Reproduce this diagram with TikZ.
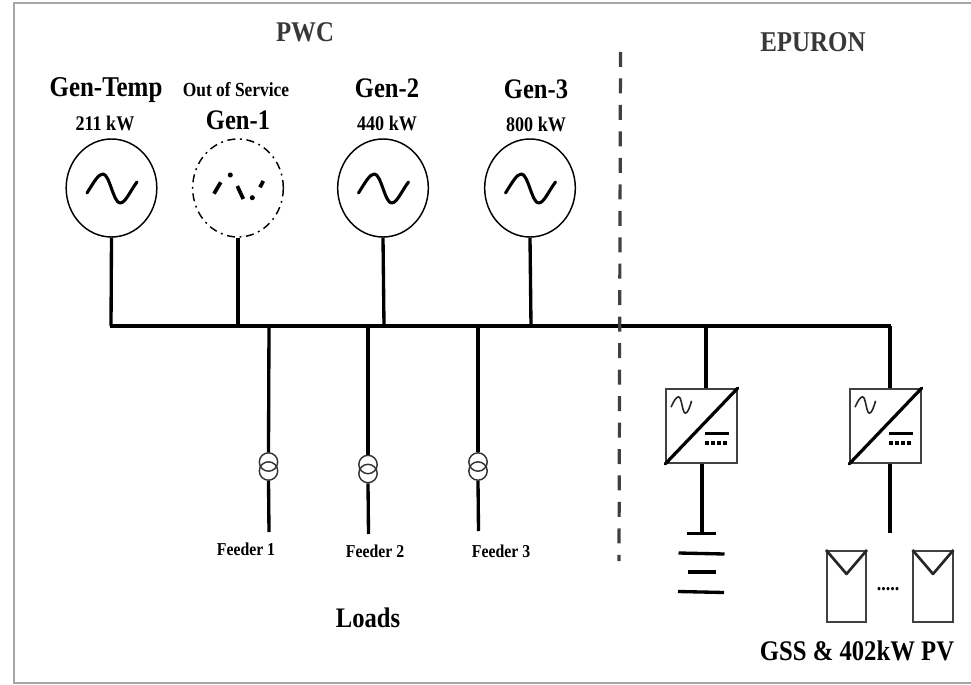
\documentclass[tikz,border=0pt]{standalone}
\usepackage{fontspec}
\setmainfont{Liberation Serif}[BoldFeatures={FakeStretch=0.87}]
\usetikzlibrary{shapes.geometric}
\newcommand{\tfs}[1]{\fontsize{#1}{#1}\selectfont\bfseries}
\begin{document}
\begin{tikzpicture}[x=0.75pt,y=-0.75pt,
  wire/.style={line width=2.5pt,black},
  genc/.style={draw=black,line width=1.1pt,fill=white,ellipse,minimum width=68pt,minimum height=73.5pt,inner sep=0pt},
  gencoff/.style={genc,line width=1.1pt,dash pattern=on 6pt off 3.5pt on 1.4pt off 3.5pt},
  sine/.style={line width=2.3pt,black,line cap=round,line join=round},
  xfmr/.style={circle,draw=black!80,line width=1.1pt,minimum size=13.8pt,inner sep=0pt},
  conv/.style={rectangle,draw=black!75,line width=1.3pt,minimum width=53pt,minimum height=55.5pt,inner sep=0pt,fill=white},
  pvbox/.style={rectangle,draw=black!75,line width=1.3pt,minimum width=29.5pt,minimum height=53.5pt,inner sep=0pt},
  lbl/.style={inner sep=0pt,text=black,anchor=center},
  lblg/.style={lbl,text=black!78},
  batt/.style={line width=2.5pt,black}]
\useasboundingbox (0,0) rectangle (971,685);
% frame
\draw[black!35,line width=1.4pt] (971,3) -- (14,3) -- (14,683) -- (971,683);
% bus ends and taps
\coordinate (busL) at (110,326);
\coordinate (busR) at (891,326);
\coordinate (t0) at (111,326);
\coordinate (t1) at (238,326);
\coordinate (t2) at (384,326);
\coordinate (t3) at (531,326);
\coordinate (f1) at (269,326);
\coordinate (f2) at (368,326);
\coordinate (f3) at (478,326);
\coordinate (c1) at (706,326);
\coordinate (c2) at (890,326);
% divider
\coordinate (divT) at (620.5,52);
\coordinate (divB) at (619,561);
% generators
\node[genc] (g0) at (111.5,188) {};
\node[gencoff] (g1) at (238,188) {};
\node[genc] (g2) at (383,188) {};
\node[genc] (g3) at (530,188) {};
\foreach \g in {g0,g2,g3}{
  \draw[sine] ([shift={(-24.5,5)}]\g.center) .. controls ([shift={(-17,-7)}]\g.center) and ([shift={(-13,-14)}]\g.center) .. ([shift={(-8.5,-14)}]\g.center)
   .. controls ([shift={(-2,-14)}]\g.center) and ([shift={(2,15)}]\g.center) .. ([shift={(8.5,15)}]\g.center)
   .. controls ([shift={(14,15)}]\g.center) and ([shift={(18,4)}]\g.center) .. ([shift={(25.5,-6)}]\g.center);
}
% broken sine of Gen-1
\draw[line width=2.8pt,black] (214,193.7) -- (220.7,182.3);
\fill[black] (230.3,175) circle (1.9pt);
\draw[line width=2.8pt,black] (237.3,186) -- (243.3,199);
\fill[black] (252.3,197.7) circle (1.9pt);
\draw[line width=2.8pt,black] (260,187.3) -- (263.3,181);
% generator connectors
\draw[wire] (g0.south) -- (t0);
\draw[wire] (g1.south) -- (t1);
\draw[wire] (g2.south) -- (t2);
\draw[wire] (g3.south) -- (t3);
% bus
\draw[wire,line width=2.9pt] (busL) -- (busR);
\draw[black!75,line width=2.4pt,dash pattern=on 11.25pt off 8.6pt] (divT) -- (divB);
% feeders
\node[xfmr] (x1a) at (268.5,462) {};
\node[xfmr] (x1b) at (268.5,471) {};
\node[xfmr] (x2a) at (368,464.5) {};
\node[xfmr] (x2b) at (368,473.5) {};
\node[xfmr] (x3a) at (478,462) {};
\node[xfmr] (x3b) at (478,471) {};
\coordinate (e1) at (269,532);
\coordinate (e2) at (368.5,534);
\coordinate (e3) at (478.5,531);
\draw[wire] (f1) -- (x1a.north);
\draw[wire] (f2) -- (x2a.north);
\draw[wire] (f3) -- (x3a.north);
\draw[wire] (x1b.south) -- (e1);
\draw[wire] (x2b.south) -- (e2);
\draw[wire] (x3b.south) -- (e3);
% converters
\node[conv] (k1) at (701.5,426) {};
\node[conv] (k2) at (885.5,426) {};
\draw[wire] (c1) -- (k1.north -| c1);
\draw[wire] (c2) -- (k2.north -| c2);
\foreach \k in {k1,k2}{
  \draw[line width=2.4pt,black,line cap=round] (\k.south west) -- (\k.north east);
  \draw[line width=1.2pt,black!85,line join=round] ([shift={(5.7,19)}]\k.north west) .. controls ([shift={(9,12)}]\k.north west) and ([shift={(11,8.7)}]\k.north west) .. ([shift={(13.3,8.7)}]\k.north west)
    .. controls ([shift={(16.5,8.7)}]\k.north west) and ([shift={(17,25)}]\k.north west) .. ([shift={(20,25)}]\k.north west)
    .. controls ([shift={(23,25)}]\k.north west) and ([shift={(24.5,18)}]\k.north west) .. ([shift={(26.3,12.7)}]\k.north west);
  \draw[line width=2.6pt,black] ([shift={(39.7,45.3)}]\k.north west) -- ([shift={(63.3,45.3)}]\k.north west);
  \draw[line width=2.6pt,black,dash pattern=on 3pt off 1.6pt] ([shift={(39.7,54.7)}]\k.north west) -- ([shift={(63.3,54.7)}]\k.north west);
}
% battery
\coordinate (b0) at (702,533.5);
\coordinate (b1a) at (687,533.5); \coordinate (b1b) at (716,533.5);
\coordinate (b2a) at (678.5,553); \coordinate (b2b) at (724.5,554);
\coordinate (b3a) at (688,572); \coordinate (b3b) at (716,572);
\coordinate (b4a) at (678,591.5); \coordinate (b4b) at (724,592.5);
\draw[wire] (k1.south -| b0) -- (b0);
\draw[batt] (b1a) -- (b1b);
\draw[batt] (b2a) -- (b2b);
\draw[batt] (b3a) -- (b3b);
\draw[batt] (b4a) -- (b4b);
% PV
\coordinate (pv0) at (890,533);
\draw[wire] (k2.south -| pv0) -- (pv0);
\node[pvbox] (p1) at (846.5,586.5) {};
\node[pvbox] (p2) at (933,586.5) {};
\foreach \p in {p1,p2}{
  \draw[line width=2pt,black!85,line join=round] (\p.north west) -- ([shift={(0,24)}]\p.north) -- (\p.north east);
}
\node[lbl] (dots) at (888,589) {\tfs{15.5}.....};
% labels
\node[lblg] (pwc) at (305,32) {\tfs{21.4}PWC};
\node[lblg] (epuron) at (813,42) {\tfs{21.5}EPURON};
\node[lbl] (n0) at (106,90) {\tfs{21.5}Gen-Temp};
\node[lbl] (p0) at (105,123) {\tfs{15.6}211 kW};
\node[lbl] (oos) at (236,90) {\tfs{15}Out of Service};
\node[lbl] (n1) at (238,120) {\tfs{21.2}Gen-1};
\node[lbl] (n2) at (387,88) {\tfs{21.2}Gen-2};
\node[lbl] (p2w) at (387,123) {\tfs{15.6}440 kW};
\node[lbl] (n3) at (536,89) {\tfs{21.2}Gen-3};
\node[lbl] (p3w) at (536,124) {\tfs{15.6}800 kW};
\node[lbl] (l1) at (246,549) {\tfs{13.6}Feeder 1};
\node[lbl] (l2) at (375,551) {\tfs{13.6}Feeder 2};
\node[lbl] (l3) at (501,551) {\tfs{13.6}Feeder 3};
\node[lbl] (loads) at (368,618) {\tfs{21.2}Loads};
\node[lbl] (gss) at (857,651) {\tfs{21.3}GSS \& 402kW PV};
\end{tikzpicture}
\end{document}
